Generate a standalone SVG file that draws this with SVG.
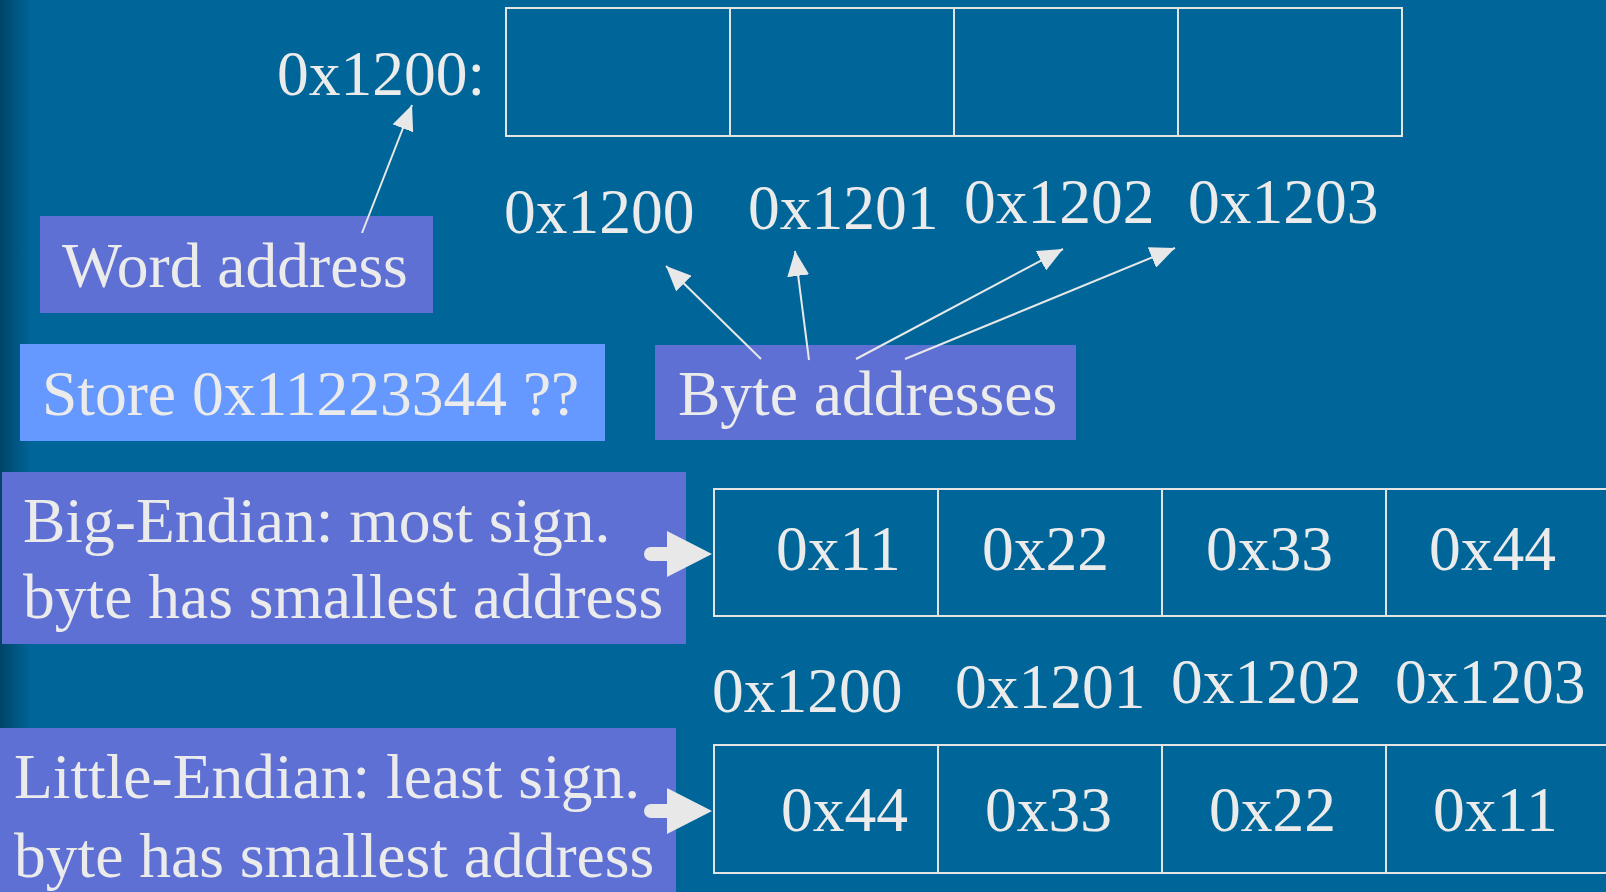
<svg xmlns="http://www.w3.org/2000/svg" width="1606" height="892" viewBox="0 0 1606 892">
  <defs>
    <linearGradient id="edgeShade" x1="0" y1="0" x2="1" y2="0">
      <stop offset="0" stop-color="#004468"/>
      <stop offset="0.45" stop-color="#005480"/>
      <stop offset="1" stop-color="#006699"/>
    </linearGradient>
    <marker id="head" markerUnits="userSpaceOnUse" markerWidth="26" markerHeight="22" refX="25" refY="11" orient="auto">
      <path d="M0,0 L25,11 L0,22 Z" fill="#e8e8e8"/>
    </marker>
    <style>
      .t { font-family: "Liberation Serif", "Times New Roman", serif; font-size: 63.5px; fill: #ebebeb; }
      .cell { fill: none; stroke: #e4e4e4; stroke-width: 2; }
      .conn { stroke: #e8e8e8; stroke-width: 2; fill: none; marker-end: url(#head); }
      .box { fill: #5f70d4; }
      .store { fill: #6699ff; }
      .block { fill: #e8e8e8; }
    </style>
  </defs>

  <!-- background -->
  <rect x="0" y="0" width="1606" height="892" fill="#006699"/>
  <rect x="0" y="0" width="32" height="892" fill="url(#edgeShade)"/>

  <!-- word at 0x1200 -->
  <g id="word-row">
    <text class="t" x="277" y="95">0x1200:</text>
    <rect class="cell" x="506" y="8" width="896" height="128"/>
    <line class="cell" x1="730" y1="8" x2="730" y2="136"/>
    <line class="cell" x1="954" y1="8" x2="954" y2="136"/>
    <line class="cell" x1="1178" y1="8" x2="1178" y2="136"/>
  </g>

  <g id="byte-labels-top">
    <text class="t" x="504" y="233">0x1200</text>
    <text class="t" x="748" y="229">0x1201</text>
    <text class="t" x="964" y="223">0x1202</text>
    <text class="t" x="1188" y="223">0x1203</text>
  </g>

  <g id="word-address">
    <rect class="box" x="40" y="216" width="393" height="97"/>
    <text class="t" x="62" y="287">Word address</text>
  </g>

  <g id="store">
    <rect class="store" x="20" y="344" width="585" height="97"/>
    <text class="t" x="42" y="415">Store 0x11223344 ??</text>
  </g>

  <g id="byte-addresses">
    <rect class="box" x="655" y="345" width="421" height="95"/>
    <text class="t" x="678" y="415">Byte addresses</text>
  </g>

  <g id="big-endian">
    <rect class="box" x="2" y="472" width="684" height="172"/>
    <text class="t" x="23" y="542">Big-Endian: most sign.</text>
    <text class="t" x="23" y="618">byte has smallest address</text>
  </g>

  <g id="big-endian-row">
    <rect class="cell" x="714" y="489" width="896" height="127"/>
    <line class="cell" x1="938" y1="489" x2="938" y2="616"/>
    <line class="cell" x1="1162" y1="489" x2="1162" y2="616"/>
    <line class="cell" x1="1386" y1="489" x2="1386" y2="616"/>
    <text class="t" x="776" y="570">0x11</text>
    <text class="t" x="982" y="570">0x22</text>
    <text class="t" x="1206" y="570">0x33</text>
    <text class="t" x="1429" y="570">0x44</text>
  </g>

  <g id="byte-labels-mid">
    <text class="t" x="712" y="712">0x1200</text>
    <text class="t" x="955" y="708">0x1201</text>
    <text class="t" x="1171" y="703">0x1202</text>
    <text class="t" x="1395" y="703">0x1203</text>
  </g>

  <g id="little-endian">
    <rect class="box" x="0" y="728" width="676" height="170"/>
    <text class="t" x="14" y="798">Little-Endian: least sign.</text>
    <text class="t" x="14" y="877">byte has smallest address</text>
  </g>

  <g id="little-endian-row">
    <rect class="cell" x="714" y="745" width="896" height="128"/>
    <line class="cell" x1="938" y1="745" x2="938" y2="873"/>
    <line class="cell" x1="1162" y1="745" x2="1162" y2="873"/>
    <line class="cell" x1="1386" y1="745" x2="1386" y2="873"/>
    <text class="t" x="781" y="831">0x44</text>
    <text class="t" x="985" y="831">0x33</text>
    <text class="t" x="1209" y="831">0x22</text>
    <text class="t" x="1433" y="831">0x11</text>
  </g>

  <!-- connectors -->
  <g id="connectors">
    <line class="conn" x1="362" y1="233" x2="412" y2="105"/>
    <line class="conn" x1="761" y1="359" x2="666" y2="266"/>
    <line class="conn" x1="809" y1="360" x2="795" y2="251"/>
    <line class="conn" x1="856" y1="359" x2="1063" y2="249"/>
    <line class="conn" x1="905" y1="359" x2="1175" y2="248"/>
    <path class="block" d="M651,547 L667,547 L667,531 L712,554 L667,577 L667,561 L651,561 A7,7 0 0 1 651,547 Z"/>
    <path class="block" d="M651,804 L667,804 L667,788 L712,811 L667,834 L667,818 L651,818 A7,7 0 0 1 651,804 Z"/>
  </g>
</svg>
